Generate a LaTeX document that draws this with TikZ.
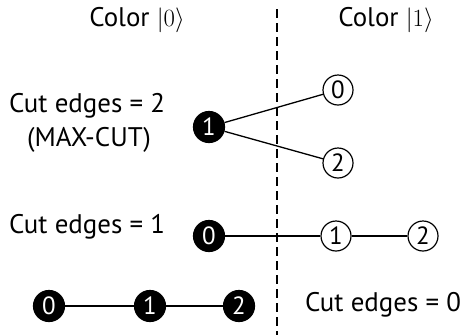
\documentclass[tikz,border=0pt]{standalone}
\usepackage{fontspec}
\setmainfont{PT Sans}
\begin{document}
\begin{tikzpicture}[x=1bp,y=-1bp,
  lbl/.style={font=\fontsize{27}{30}\selectfont, inner sep=0pt},
  bnode/.style={circle, fill=black, draw=black, line width=1.2bp, minimum size=31bp, inner sep=0pt, text=white, font=\fontsize{25}{26}\selectfont},
  wnode/.style={circle, fill=white, draw=black, line width=1.2bp, minimum size=30bp, inner sep=0pt, font=\fontsize{25}{26}\selectfont},
  edge/.style={line width=1.3bp}]
\useasboundingbox (0,0) rectangle (465,335);
\coordinate (dtop) at (277,9);
\coordinate (dbot) at (277,335);
\draw[line width=1.6bp, dash pattern=on 9bp off 5bp] (dtop) -- (dbot);
\node[lbl] (c0) at (137,20) {Color $|0\rangle$};
\node[lbl] (c1) at (386,20) {Color $|1\rangle$};
\node[lbl] (t2) at (87,106) {Cut edges = 2};
\node[lbl] (mc) at (89,140) {(MAX-CUT)};
\node[lbl] (t1) at (87,227) {Cut edges = 1};
\node[lbl] (t0) at (383,305) {Cut edges = 0};
% row 1
\node[bnode] (a1) at (209,127) {1};
\node[wnode] (a0) at (338,90) {0};
\node[wnode] (a2) at (338,163) {2};
\draw[edge] (a1) -- (a0);
\draw[edge] (a1) -- (a2);
% row 2
\node[bnode] (b0) at (209,236) {0};
\node[wnode] (b1) at (336,236) {1};
\node[wnode] (b2) at (423,236) {2};
\draw[edge] (b0) -- (b1);
\draw[edge] (b1) -- (b2);
% row 3
\node[bnode] (d0) at (49,306) {0};
\node[bnode] (d1) at (150,306) {1};
\node[bnode] (d2) at (239,306) {2};
\draw[edge] (d0) -- (d1);
\draw[edge] (d1) -- (d2);
\end{tikzpicture}
\end{document}
